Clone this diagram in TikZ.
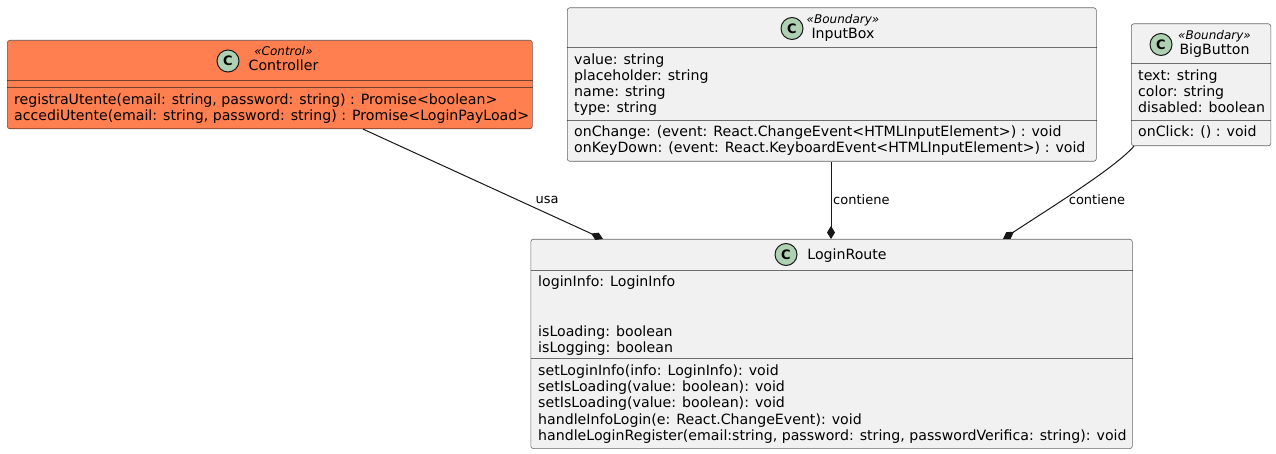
\documentclass[tikz,border=0pt]{standalone}
\usepackage{fontspec}
\setmainfont{DejaVu Sans}
\usetikzlibrary{arrows.meta,calc}
\definecolor{uml}{HTML}{181818}
\definecolor{umlbg}{HTML}{F1F1F1}
\definecolor{coral}{HTML}{FF7F50}
\definecolor{cgreen}{HTML}{ADD1B2}
\begin{document}
\begin{tikzpicture}[x=1pt,y=-1pt,
  classbox/.style={draw=uml, draw opacity=0.65, line width=0.6pt, fill=umlbg, rounded corners=2.5pt, anchor=north west, inner sep=0pt},
  txt/.style={anchor=base west, inner sep=0pt, font=\fontsize{14.15}{16}\selectfont},
  ster/.style={anchor=base, inner sep=0pt, font=\fontsize{12}{14}\selectfont\itshape},
  cname/.style={anchor=base, inner sep=0pt, font=\fontsize{14.15}{16}\selectfont},
  cic/.style={circle, draw=uml, line width=1pt, fill=cgreen, minimum size=22pt, inner sep=0pt, font=\fontsize{13}{13}\selectfont\bfseries},
  sepline/.style={draw=uml, draw opacity=0.6, line width=0.6pt},
  conn/.style={draw=uml, line width=1pt},
  compo/.style={-{Diamond[length=13pt,width=8pt,fill=uml]}},
  lbl/.style={inner sep=0pt, font=\fontsize{13}{15}\selectfont}]
\useasboundingbox[fill=white] (0,0) rectangle (1276,454);

% Controller
\node[classbox, fill=coral, minimum width=525pt, minimum height=88.5pt] (ctrl) at (7,40) {};
\draw[sepline] (ctrl.west |- 0,80) -- (ctrl.east |- 0,80);
\draw[sepline] (ctrl.west |- 0,87.5) -- (ctrl.east |- 0,87.5);
\node[cic] (ctrlc) at (228,61) {C};
\node[ster] (ctrls) at (283.5,56) {«Control»};
\node[cname] (ctrln) at (283.5,71) {Controller};
\node[txt] (ctrlm1) at (14,104.5) {registraUtente(email: string, password: string) : Promise<boolean>};
\node[txt] (ctrlm2) at (14,120.7) {accediUtente(email: string, password: string) : Promise<LoginPayLoad>};

% InputBox
\node[classbox, minimum width=529pt, minimum height=153.5pt] (input) at (567,7.5) {};
\draw[sepline] (input.west |- 0,47.3) -- (input.east |- 0,47.3);
\draw[sepline] (input.west |- 0,120) -- (input.east |- 0,120);
\node[cic] (inputc) at (792,28.5) {C};
\node[ster] (inputs) at (843,24) {«Boundary»};
\node[cname] (inputn) at (843,39) {InputBox};
\node[txt] (inputa1) at (574,64.3) {value: string};
\node[txt] (inputa2) at (574,80.5) {placeholder: string};
\node[txt] (inputa3) at (574,96.6) {name: string};
\node[txt] (inputa4) at (574,112.7) {type: string};
\node[txt] (inputm1) at (574,136.7) {onChange: (event: React.ChangeEvent<HTMLInputElement>) : void};
\node[txt] (inputm2) at (574,152.8) {onKeyDown: (event: React.KeyboardEvent<HTMLInputElement>) : void};

% BigButton
\node[classbox, minimum width=139.5pt, minimum height=122pt] (bb) at (1131,23.5) {};
\draw[sepline] (bb.west |- 0,63.5) -- (bb.east |- 0,63.5);
\draw[sepline] (bb.west |- 0,120.5) -- (bb.east |- 0,120.5);
\node[cic] (bbc) at (1161,44.5) {C};
\node[ster] (bbs) at (1214.5,39.5) {«Boundary»};
\node[cname] (bbn) at (1214.5,54.5) {BigButton};
\node[txt] (bba1) at (1138,80.5) {text: string};
\node[txt] (bba2) at (1138,96.6) {color: string};
\node[txt] (bba3) at (1138,112.7) {disabled: boolean};
\node[txt] (bbm1) at (1138,137) {onClick: () : void};

% LoginRoute
\node[classbox, minimum width=601.5pt, minimum height=209.3pt] (login) at (530.5,239) {};
\draw[sepline] (login.west |- 0,270.7) -- (login.east |- 0,270.7);
\draw[sepline] (login.west |- 0,358.3) -- (login.east |- 0,358.3);
\node[cic] (loginc) at (786,254.5) {C};
\node[cname] (loginn) at (847,259.5) {LoginRoute};
\node[txt] (logina1) at (538,286.7) {loginInfo: LoginInfo};
\node[txt] (logina2) at (538,336) {isLoading: boolean};
\node[txt] (logina3) at (538,352) {isLogging: boolean};
\node[txt] (loginm1) at (538,375.5) {setLoginInfo(info: LoginInfo): void};
\node[txt] (loginm2) at (538,391.7) {setIsLoading(value: boolean): void};
\node[txt] (loginm3) at (538,407.9) {setIsLoading(value: boolean): void};
\node[txt] (loginm4) at (538,424.1) {handleInfoLogin(e: React.ChangeEvent): void};
\node[txt] (loginm5) at (538,440.3) {handleLoginRegister(email:string, password: string, passwordVerifica: string): void};

% connectors
\coordinate (cA) at ($(ctrl.south west)+(356,0)$);
\coordinate (lA) at ($(login.north west)+(72.5,0)$);
\coordinate (iB) at ($(input.south west)+(264,0)$);
\coordinate (lB) at ($(login.north west)+(300.5,0)$);
\coordinate (bC) at ($(bb.south west)+(3,0)$);
\coordinate (lC) at ($(login.north west)+(472.5,0)$);
\draw[conn, compo] (cA) -- (lA);
\draw[conn, compo] (iB) -- (lB);
\draw[conn, compo] (bC) .. controls (1115,168) and (1050,208) .. (lC);
\node[lbl] (usa) at (547,200) {usa};
\node[lbl, anchor=west] (cont1) at (833,200) {contiene};
\node[lbl] (cont2) at (1097,200) {contiene};
\end{tikzpicture}
\end{document}
